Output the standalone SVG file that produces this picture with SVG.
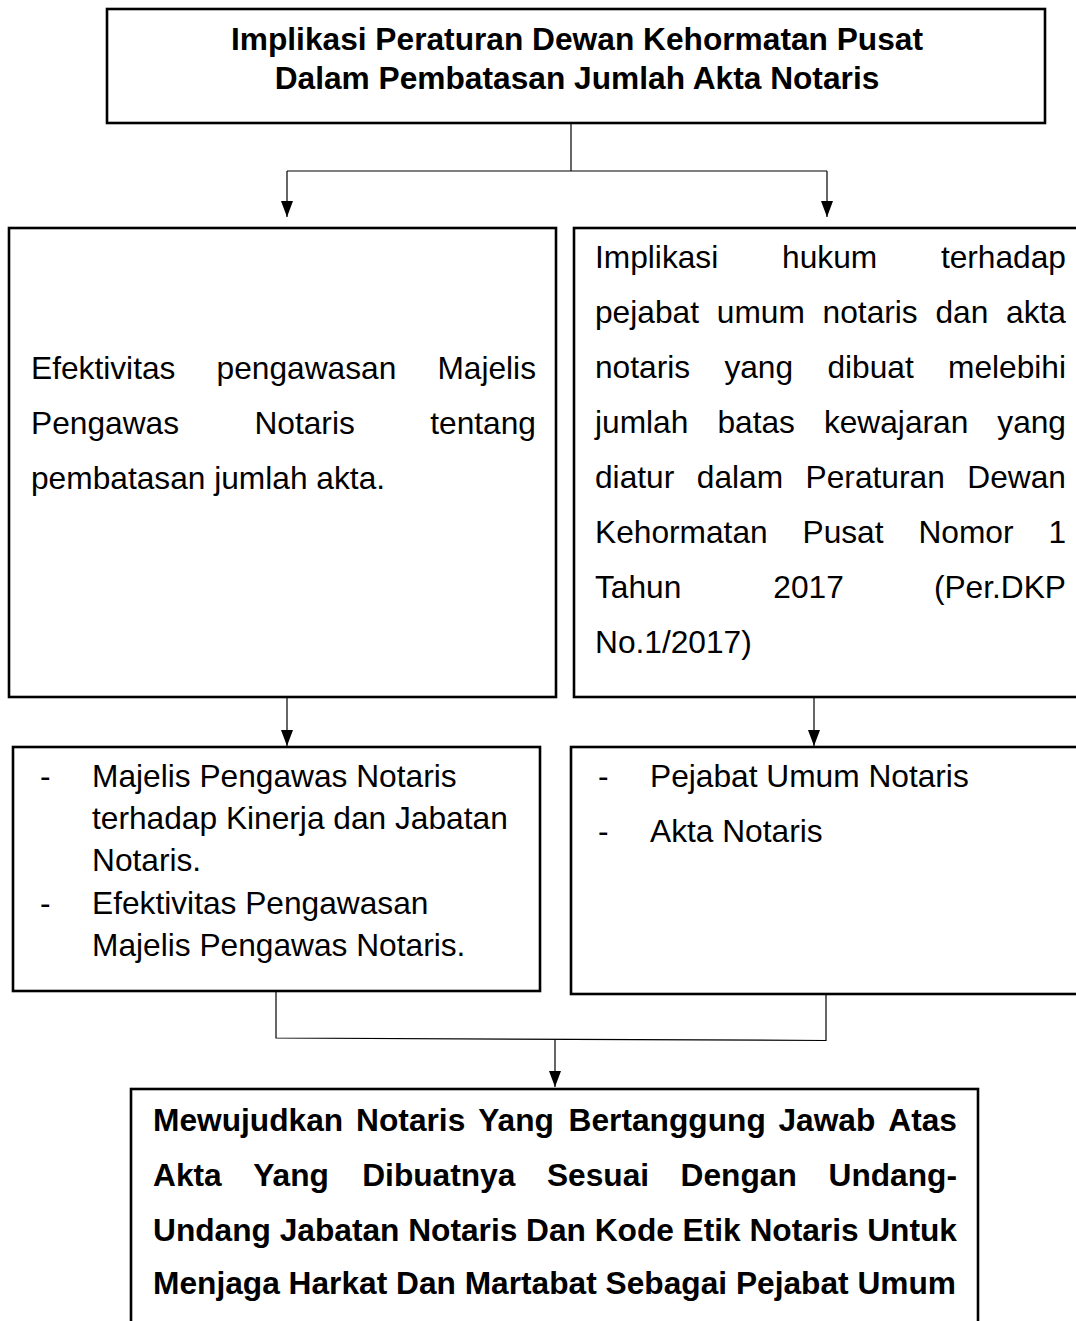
<svg xmlns="http://www.w3.org/2000/svg" width="1076" height="1321" viewBox="0 0 1076 1321">
<style>
.box{fill:#fff;stroke:#000;stroke-width:2.6}
.ln{fill:none;stroke:#000;stroke-width:1.2}
.r{font-family:"Liberation Sans",Arial,sans-serif;font-size:31.7px;fill:#000}
.bd{font-family:"Liberation Sans",Arial,sans-serif;font-size:31.7px;font-weight:bold;fill:#000}
.e{text-anchor:end}
</style>
<defs>
<marker id="ah" markerUnits="userSpaceOnUse" markerWidth="16" markerHeight="12" refX="16" refY="6" orient="auto" viewBox="0 0 16 12">
<path d="M0,0 L16,6 L0,12 Z" fill="#000"/>
</marker>
</defs>
<rect width="1076" height="1321" fill="#fff"/>

<g id="connectors">
<path class="ln" d="M571,123 V171"/>
<path class="ln" d="M287,171 H827"/>
<path class="ln" d="M287,171 V217" marker-end="url(#ah)"/>
<path class="ln" d="M827,171 V217" marker-end="url(#ah)"/>
<path class="ln" d="M287,698 V746" marker-end="url(#ah)"/>
<path class="ln" d="M814,698 V746" marker-end="url(#ah)"/>
<path class="ln" d="M276,992 V1038 L826,1040.5 V995"/>
<path class="ln" d="M555,1039.5 V1087" marker-end="url(#ah)"/>
</g>

<g id="node-title">
<rect class="box" x="107" y="9" width="938" height="114"/>
<text class="bd" x="577" y="50" text-anchor="middle">Implikasi Peraturan Dewan Kehormatan Pusat</text>
<text class="bd" x="577" y="89" text-anchor="middle">Dalam Pembatasan Jumlah Akta Notaris</text>
</g>

<g id="node-efektivitas">
<rect class="box" x="9" y="228" width="547" height="469"/>
<text class="r" y="379"><tspan x="31">Efektivitas</tspan><tspan x="216.6">pengawasan</tspan><tspan x="536" class="e">Majelis</tspan></text>
<text class="r" y="434"><tspan x="31">Pengawas</tspan><tspan x="254.4">Notaris</tspan><tspan x="536" class="e">tentang</tspan></text>
<text class="r" x="31" y="489">pembatasan jumlah akta.</text>
</g>

<g id="node-implikasi-hukum">
<rect class="box" x="574" y="228" width="520" height="469"/>
<text class="r" y="268"><tspan x="595">Implikasi</tspan><tspan x="782.1">hukum</tspan><tspan x="1066" class="e">terhadap</tspan></text>
<text class="r" y="323"><tspan x="595">pejabat</tspan><tspan x="716.8">umum</tspan><tspan x="822.6">notaris</tspan><tspan x="935.5">dan</tspan><tspan x="1066" class="e">akta</tspan></text>
<text class="r" y="378"><tspan x="595">notaris</tspan><tspan x="724.4">yang</tspan><tspan x="827.4">dibuat</tspan><tspan x="1066" class="e">melebihi</tspan></text>
<text class="r" y="433"><tspan x="595">jumlah</tspan><tspan x="717.4">batas</tspan><tspan x="823.9">kewajaran</tspan><tspan x="1066" class="e">yang</tspan></text>
<text class="r" y="488"><tspan x="595">diatur</tspan><tspan x="696.8">dalam</tspan><tspan x="805.6">Peraturan</tspan><tspan x="1066" class="e">Dewan</tspan></text>
<text class="r" y="543"><tspan x="595">Kehormatan</tspan><tspan x="802.5">Pusat</tspan><tspan x="918.4">Nomor</tspan><tspan x="1066" class="e">1</tspan></text>
<text class="r" y="598"><tspan x="595">Tahun</tspan><tspan x="773.3">2017</tspan><tspan x="1066" class="e">(Per.DKP</tspan></text>
<text class="r" x="595" y="653">No.1/2017)</text>
</g>

<g id="node-majelis">
<rect class="box" x="13" y="747" width="527" height="244"/>
<text class="r" x="40" y="787">-</text>
<text class="r" x="92" y="787">Majelis Pengawas Notaris</text>
<text class="r" x="92" y="829">terhadap Kinerja dan Jabatan</text>
<text class="r" x="92" y="871">Notaris.</text>
<text class="r" x="40" y="914">-</text>
<text class="r" x="92" y="914">Efektivitas Pengawasan</text>
<text class="r" x="92" y="956">Majelis Pengawas Notaris.</text>
</g>

<g id="node-pejabat">
<rect class="box" x="571" y="747" width="520" height="247"/>
<text class="r" x="598" y="787">-</text>
<text class="r" x="650" y="787">Pejabat Umum Notaris</text>
<text class="r" x="598" y="842">-</text>
<text class="r" x="650" y="842">Akta Notaris</text>
</g>

<g id="node-mewujudkan">
<rect class="box" x="131" y="1089" width="847" height="260"/>
<text class="bd" y="1131"><tspan x="153">Mewujudkan</tspan><tspan x="356.1">Notaris</tspan><tspan x="478.2">Yang</tspan><tspan x="568.6">Bertanggung</tspan><tspan x="778.4">Jawab</tspan><tspan x="957" class="e">Atas</tspan></text>
<text class="bd" y="1186"><tspan x="153">Akta</tspan><tspan x="253.2">Yang</tspan><tspan x="362.2">Dibuatnya</tspan><tspan x="546.9">Sesuai</tspan><tspan x="680.6">Dengan</tspan><tspan x="957" class="e">Undang-</tspan></text>
<text class="bd" y="1241"><tspan x="153">Undang</tspan><tspan x="279.7">Jabatan</tspan><tspan x="408.2">Notaris</tspan><tspan x="526.1">Dan</tspan><tspan x="594.7">Kode</tspan><tspan x="682.6">Etik</tspan><tspan x="749.4">Notaris</tspan><tspan x="957" class="e">Untuk</tspan></text>
<text class="bd" x="153" y="1294">Menjaga Harkat Dan Martabat Sebagai Pejabat Umum</text>
</g>
</svg>
